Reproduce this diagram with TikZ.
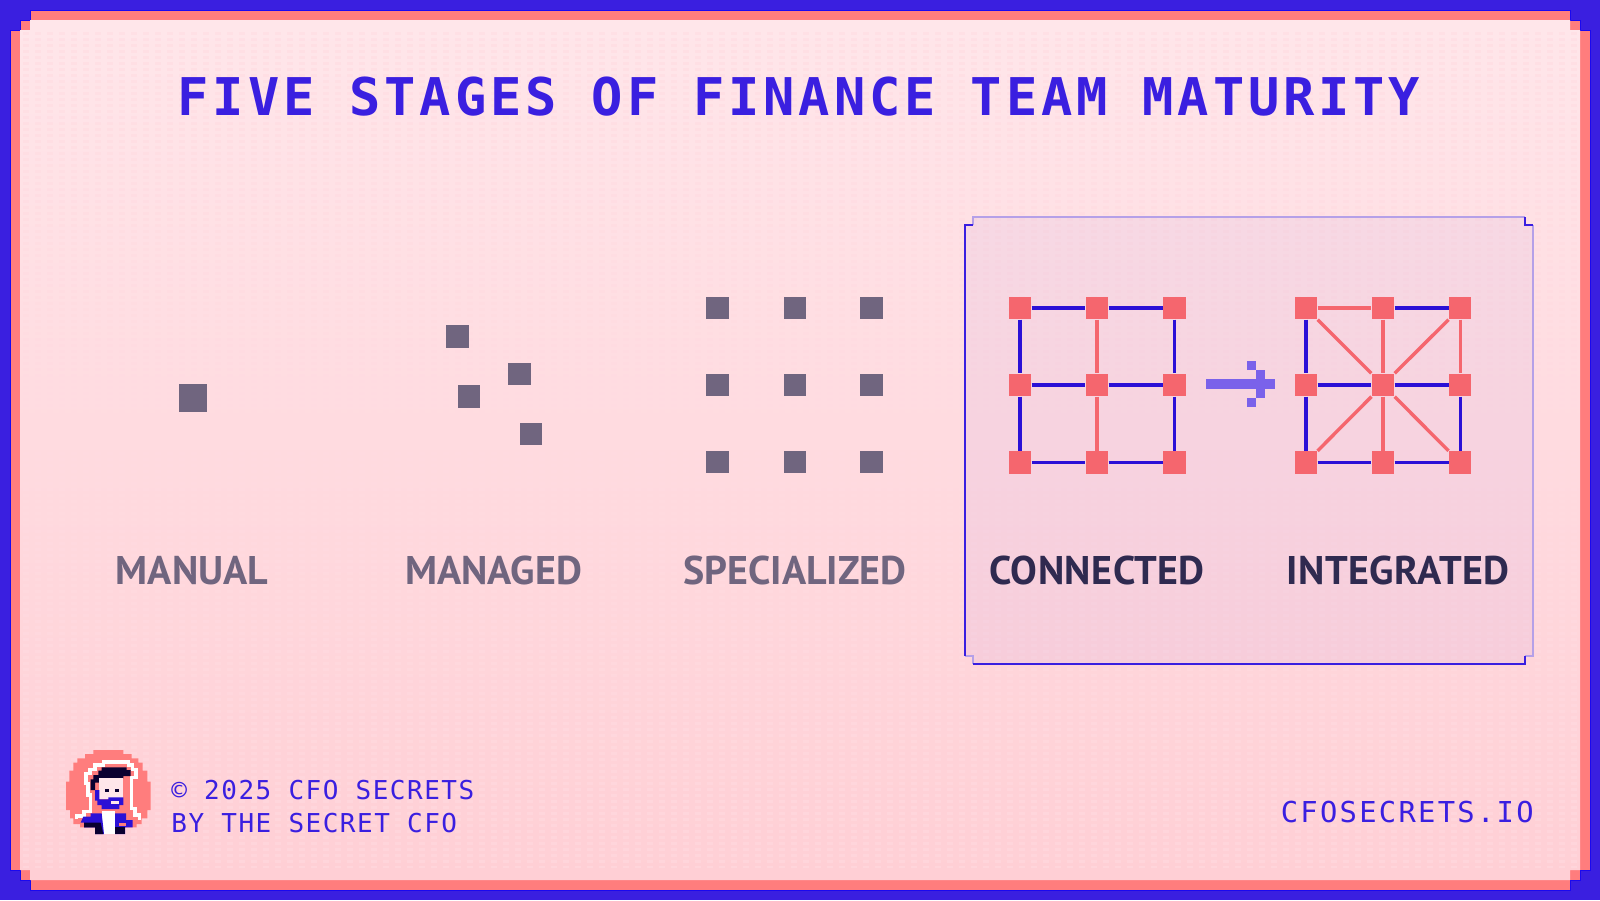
\documentclass[tikz,border=0pt]{standalone}
\usepackage{xcolor}
\usepackage{fontspec}
\setmainfont{PT Sans}
\newfontfamily\pixelfont[LetterSpace=7.4]{DejaVu Sans Mono}
\newfontfamily\footfont[LetterSpace=5.8]{DejaVu Sans Mono}
\newfontfamily\sitefont[LetterSpace=7.9]{DejaVu Sans Mono}
\newfontfamily\darkfont[LetterSpace=1.2]{PT Sans}
\usetikzlibrary{calc}

\definecolor{edgeblue}{HTML}{3A1FE0}
\definecolor{edgeline}{HTML}{1A08F0}
\definecolor{edgecoral}{HTML}{FF7D7D}
\definecolor{paletop}{HTML}{FFE6EA}
\definecolor{palebottom}{HTML}{FFCFD5}
\definecolor{scanline}{HTML}{FFDBE1}
\definecolor{tilegrey}{HTML}{70657F}
\definecolor{tilecoral}{HTML}{F5666E}
\definecolor{linkblue}{HTML}{2B10D6}
\definecolor{arrowviolet}{HTML}{7A62EA}
\definecolor{inkdark}{HTML}{2F2A50}
\definecolor{hairdark}{HTML}{0A0030}
\definecolor{panelline}{HTML}{B5A0E8}

\tikzset{
  tile/.style={fill=tilegrey, inner sep=0pt, minimum size=11.25pt},
  bigtile/.style={tile, minimum size=14pt},
  hub/.style={fill=tilecoral, inner sep=0pt, minimum size=11.25pt},
  bluelink/.style={draw=linkblue, line width=1.6pt},
  corallink/.style={draw=tilecoral, line width=1.7pt},
  stagelabel/.style={anchor=base, text=tilegrey, font=\bfseries\fontsize{20}{24}\selectfont},
  darklabel/.style={anchor=base, text=inkdark, font=\darkfont\bfseries\fontsize{20}{24}\selectfont},
  footline/.style={anchor=base west, inner sep=0pt, text=edgeblue, font=\footfont\fontsize{13}{16}\selectfont}
}

\begin{document}
\begin{tikzpicture}[x=0.5pt, y=-0.5pt]
\useasboundingbox (0,0) rectangle (1600,900);

% Frame
\fill[edgeblue] (0,0) rectangle (1600,900);
\draw[edgeline, fill=edgecoral, line width=0.4pt]
  (30,10) -- (1570,10) -- (1570,20) -- (1580,20) -- (1580,30) -- (1590,30)
  -- (1590,870) -- (1580,870) -- (1580,880) -- (1570,880) -- (1570,890)
  -- (30,890) -- (30,880) -- (20,880) -- (20,870) -- (10,870)
  -- (10,30) -- (20,30) -- (20,20) -- (30,20) -- cycle;
\shade[top color=paletop, bottom color=palebottom]
  (30,20) -- (1570,20) -- (1570,30) -- (1580,30)
  -- (1580,870) -- (1570,870) -- (1570,880)
  -- (30,880) -- (30,870) -- (20,870) -- (20,30) -- (30,30) -- cycle;

% Scan lines on the paper
\foreach \col in {26,38,...,1574}
  \draw[scanline, opacity=0.5, line width=3pt, dash pattern=on 1.5pt off 1.5pt] (\col,32) -- (\col,868);

% Highlight panel behind the last two stages
\fill[edgeblue, opacity=0.04]
  (973,217) -- (1525,217) -- (1525,225) -- (1533,225) -- (1533,656) -- (1525,656)
  -- (1525,664) -- (973,664) -- (973,656) -- (965,656) -- (965,225) -- (973,225) -- cycle;
\draw[panelline, line width=0.6pt] (973,225) -- (973,217) -- (1525,217);
\draw[panelline, line width=0.6pt] (1533,225) -- (1533,656) -- (1525,656);
\draw[panelline, line width=0.6pt] (965,656) -- (973,656) -- (973,664);
\draw[edgeblue, line width=0.6pt] (973,225) -- (965,225) -- (965,656);
\draw[edgeblue, line width=0.6pt] (1525,217) -- (1525,225) -- (1533,225);
\draw[edgeblue, line width=0.6pt] (973,664) -- (1525,664) -- (1525,656);

% Title
\node[anchor=base, text=edgeblue, font=\pixelfont\bfseries\fontsize{26}{30}\selectfont] (title) at (799,115)
  {FIVE STAGES OF FINANCE TEAM MATURITY};

% Manual
\node[bigtile] (manual) at (192.5,398) {};

% Managed
\node[tile] (managedA) at (457.5,336.5) {};
\node[tile] (managedB) at (519.7,374) {};
\node[tile] (managedC) at (469,396.5) {};
\node[tile] (managedD) at (531,434) {};

% Specialized
\foreach \row/\y in {1/308,2/385,3/462}
  \foreach \col/\x in {1/717.5,2/795,3/871.5}
    \node[tile] (special\row\col) at (\x,\y) {};

% Connected and integrated grids of hubs
\foreach \row/\y in {1/308,2/385,3/462.5} {
  \foreach \col/\x in {1/1020,2/1097,3/1174.3}
    \node[hub] (conn\row\col) at (\x,\y) {};
  \foreach \col/\x in {1/1306,2/1383,3/1460.2}
    \node[hub] (integ\row\col) at (\x,\y) {};
}

% Links of the connected grid
\path[bluelink] (conn11) -- (conn12);
\path[bluelink] (conn12) -- (conn13);
\path[bluelink] (conn21) -- (conn22);
\path[bluelink] (conn22) -- (conn23);
\path[bluelink] (conn31) -- (conn32);
\path[bluelink] (conn32) -- (conn33);
\path[bluelink] (conn11) -- (conn21);
\path[bluelink] (conn21) -- (conn31);
\path[bluelink] (conn13) -- (conn23);
\path[bluelink] (conn23) -- (conn33);
\path[corallink] (conn12) -- (conn22);
\path[corallink] (conn22) -- (conn32);

% Links of the integrated grid
\path[corallink] (integ11) -- (integ12);
\path[bluelink] (integ12) -- (integ13);
\path[bluelink] (integ21) -- (integ22);
\path[bluelink] (integ22) -- (integ23);
\path[bluelink] (integ31) -- (integ32);
\path[bluelink] (integ32) -- (integ33);
\path[bluelink] (integ11) -- (integ21);
\path[bluelink] (integ21) -- (integ31);
\path[corallink] (integ13) -- (integ23);
\path[bluelink] (integ23) -- (integ33);
\path[corallink] (integ12) -- (integ22);
\path[corallink] (integ22) -- (integ32);
\path[corallink] (integ22) -- (integ11);
\path[corallink] (integ22) -- (integ13);
\path[corallink] (integ22) -- (integ31);
\path[corallink] (integ22) -- (integ33);

% Pixel arrow
\fill[arrowviolet] (1206,379.3) rectangle (1275,388.7);
\fill[arrowviolet] (1256.3,370) rectangle (1265.4,398);
\fill[arrowviolet] (1246.8,361) rectangle (1256.3,370);
\fill[arrowviolet] (1246.8,398) rectangle (1256.3,407.3);

% Labels
\node[stagelabel] (manualtext) at (192,584) {MANUAL};
\node[stagelabel] (managedtext) at (493.6,584) {MANAGED};
\node[stagelabel] (specialtext) at (795,584) {SPECIALIZED};
\node[darklabel] (conntext) at (1097,584) {CONNECTED};
\node[darklabel] (integtext) at (1398,584) {INTEGRATED};

% Footer
\node[footline] (copyright) at (171,799.3) {© 2025 CFO SECRETS};
\node[footline] (byline) at (171,832.7) {BY THE SECRET CFO};
\node[anchor=base east, inner sep=0pt, text=edgeblue, font=\sitefont\fontsize{14.4}{18}\selectfont] (website) at (1534,822.7) {CFOSECRETS.IO};

% Avatar, drawn on a grid three times finer than the page
\begin{scope}[shift={(60,740)}, scale=1/3]
  % stepped disc
  \fill[edgecoral] (18,125) -- (18,210) -- (30,210) -- (30,235) -- (40,235) -- (40,252) -- (60,252)
    -- (60,262) -- (230,262) -- (230,252) -- (245,252) -- (245,235) -- (262,235) -- (262,210) -- (272,210)
    -- (272,125) -- (262,125) -- (262,92) -- (248,92) -- (248,68) -- (235,68) -- (235,55) -- (215,55)
    -- (215,42) -- (190,42) -- (190,30) -- (100,30) -- (100,42) -- (75,42) -- (75,55) -- (52,55)
    -- (52,68) -- (40,68) -- (40,92) -- (28,92) -- (28,125) -- cycle;
  % white outline
  \draw[white, line width=1.6pt] (50,238) -- (50,228) -- (72,228) -- (72,215) -- (92,215) -- (92,165)
    -- (84,165) -- (84,130) -- (78,130) -- (78,100) -- (90,100) -- (90,88) -- (105,88) -- (105,75)
    -- (130,75) -- (130,66) -- (205,66) -- (205,75) -- (218,75) -- (218,88) -- (228,88) -- (228,112)
    -- (215,112) -- (215,205) -- (225,205) -- (225,225) -- (238,225) -- (238,240);
  % hair
  \fill[hairdark] (92,150) -- (105,150) -- (105,128) -- (118,128) -- (118,115) -- (190,115) -- (190,108)
    -- (212,108) -- (212,90) -- (200,90) -- (200,82) -- (125,82) -- (125,92) -- (115,92) -- (115,105)
    -- (100,105) -- (100,118) -- (92,118) -- cycle;
  % face
  \fill[paletop] (118,115) rectangle (190,178);
  \fill[hairdark] (136,146) rectangle (146,155);
  \fill[hairdark] (166,146) rectangle (176,155);
  % beard
  \fill[linkblue] (105,150) -- (118,150) -- (118,178) -- (145,178) -- (145,172) -- (190,172) -- (190,195)
    -- (178,195) -- (178,207) -- (125,207) -- (125,195) -- (112,195) -- (112,182) -- (105,182) -- cycle;
  \fill[paletop] (152,184) rectangle (178,192);
  % body
  \fill[white] (125,212) rectangle (165,282);
  \fill[linkblue] (70,230) -- (92,230) -- (92,220) -- (125,220) -- (132,282) -- (105,282) -- (105,262)
    -- (72,262) -- (72,248) -- (62,248) -- cycle;
  \fill[hairdark] (72,248) -- (122,248) -- (130,282) -- (105,282) -- (105,262) -- (72,262) -- cycle;
  \fill[linkblue] (165,220) -- (198,220) -- (198,240) -- (218,240) -- (218,262) -- (195,262) -- (195,282) -- (165,282) -- cycle;
  \fill[hairdark] (165,262) rectangle (195,282);
  \fill[edgecoral] (176,250) rectangle (198,259);
\end{scope}

\end{tikzpicture}
\end{document}
